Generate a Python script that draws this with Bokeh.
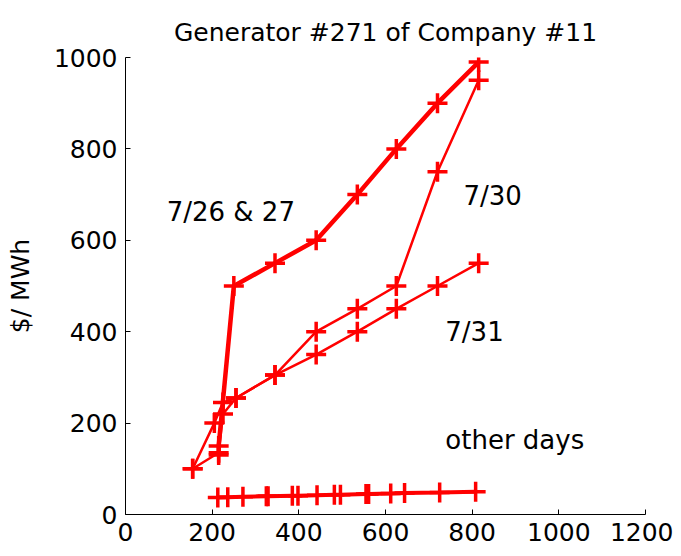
from bokeh.core.properties import value
from bokeh.embed import file_html
from bokeh.models import FixedTicker
from bokeh.plotting import figure
from bokeh.resources import INLINE

# offers of the generator, MW vs $/MWh
x_2627 = [215, 215, 250, 345, 440, 535, 625, 720, 815]
y_2627 = [130, 150, 500, 550, 600, 700, 800, 900, 990]

x_30 = [155, 205, 225, 255, 345, 440, 535, 625, 720, 815]
y_30 = [100, 200, 245, 255, 305, 400, 450, 500, 750, 950]

x_31 = [155, 215, 225, 255, 345, 440, 535, 625, 720, 815]
y_31 = [100, 135, 220, 255, 305, 350, 400, 450, 500, 550]

x_other = [213, 236, 271, 325, 329, 385, 398, 442, 482, 496, 555, 561, 612, 644, 725, 808]
y_other = [37, 38, 39, 40, 40, 41, 41, 42, 43, 43, 45, 45, 46, 47, 48, 50]

labels = ["7/26 & 27", "7/30", "7/31", "other days"]
label_x = [95, 780, 738, 738]
label_y = [661, 698, 400, 162]

x_ticks = [0, 200, 400, 600, 800, 1000, 1200]
y_ticks = [0, 200, 400, 600, 800, 1000]

FONT = "DejaVu Sans"
RED = "#ff0000"

p = figure(width=673, height=548, x_range=(0, 1200), y_range=(0, 1000),
           output_backend="svg", toolbar_location=None,
           min_border_left=125, min_border_right=28,
           min_border_top=57, min_border_bottom=34,
           title="Generator #271 of Company #11")

p.title.align = "center"
p.title.text_font = FONT
p.title.text_font_size = "25px"
p.title.text_font_style = "normal"
p.title.text_color = "black"
p.title.standoff = 22

p.outline_line_color = None
p.xgrid.visible = False
p.ygrid.visible = False

p.xaxis.ticker = FixedTicker(ticks=x_ticks)
p.yaxis.ticker = FixedTicker(ticks=y_ticks)
p.yaxis.axis_label = "$/ MWh"
for ax in (p.xaxis, p.yaxis):
    ax.major_tick_in = 5
    ax.major_tick_out = 0
    ax.minor_tick_line_color = None
    ax.axis_line_color = "black"
    ax.major_tick_line_color = "black"
    ax.major_label_text_font = FONT
    ax.major_label_text_font_size = "25px"
    ax.major_label_text_color = "black"
    ax.major_label_standoff = 8
p.yaxis.axis_label_text_font = FONT
p.yaxis.axis_label_text_font_size = "25px"
p.yaxis.axis_label_text_font_style = "normal"
p.yaxis.axis_label_text_color = "black"
p.yaxis.axis_label_standoff = 16

# 7/26 and 7/27 overlap, so drawn heavier
p.line(x_2627, y_2627, color=RED, line_width=4.5)
p.scatter(x_2627, y_2627, marker="cross", size=20, line_width=3.5, color=RED)

p.line(x_30, y_30, color=RED, line_width=2.5)
p.scatter(x_30, y_30, marker="cross", size=20, line_width=3.5, color=RED)

p.line(x_31, y_31, color=RED, line_width=2.5)
p.scatter(x_31, y_31, marker="cross", size=20, line_width=3.5, color=RED)

p.line(x_other, y_other, color=RED, line_width=4)
p.scatter(x_other, y_other, marker="cross", size=20, line_width=3.5, color=RED)

p.text(label_x, label_y, text=labels, text_font=value(FONT),
       text_font_size="26px", text_baseline="middle", text_align="left",
       text_color="black")

open("out.html", "w").write(file_html(p, INLINE))
